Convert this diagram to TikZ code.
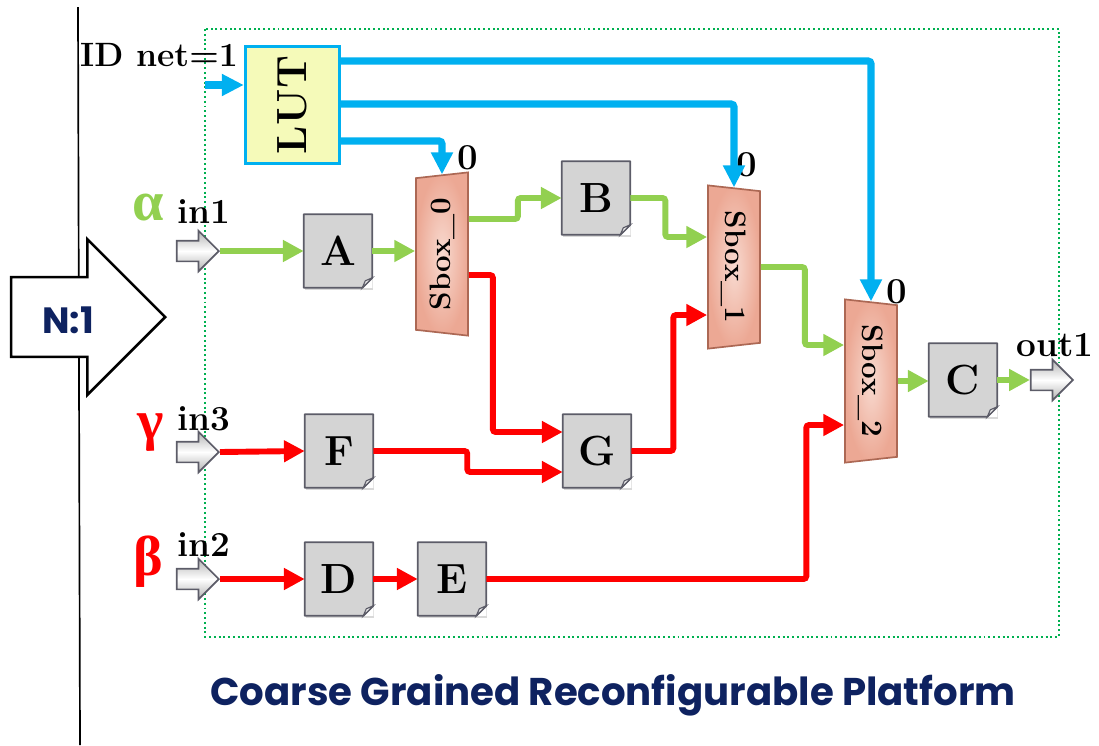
\documentclass[tikz,border=0pt]{standalone}
\usepackage{fontspec}
\newfontfamily\titlefont{Poppins}
\newfontfamily\greekfont{Liberation Serif}
\usepackage{graphicx}
\usepackage{tikz}
\usetikzlibrary{arrows.meta, positioning, calc, shapes.geometric, shapes.arrows, shadows}
\definecolor{lutblue}{RGB}{0,176,240}
\definecolor{sigreen}{RGB}{146,208,80}
\definecolor{sired}{RGB}{255,0,0}
\definecolor{lutfill}{RGB}{245,250,185}
\definecolor{sboxfill}{RGB}{236,168,148}
\definecolor{sboxlight}{RGB}{248,218,208}
\definecolor{sboxedge}{RGB}{172,104,84}
\definecolor{boxgray}{RGB}{212,212,212}
\definecolor{boxedge}{RGB}{92,92,104}
\definecolor{framegreen}{RGB}{0,176,80}
\definecolor{navy}{RGB}{14,34,96}

\begin{document}
\begin{tikzpicture}[
x=0.025cm, y=-0.025cm,
blk/.style={rectangle, fill=boxgray, minimum width=1.7cm, minimum height=1.825cm, inner sep=0pt, font=\fontsize{30}{30}\selectfont\bfseries, drop shadow={opacity=0.3, shadow xshift=1pt, shadow yshift=-2pt}},
sbox/.style={trapezium, trapezium stretches body, trapezium angle=77, draw=sboxedge, line width=1.2pt, inner color=sboxlight, outer color=sboxfill, minimum width=4.08cm, minimum height=1.3cm, inner sep=0pt, font=\fontsize{21}{21}\selectfont\bfseries},
lutbox/.style={rectangle, draw=lutblue, line width=2.4pt, fill=lutfill, minimum width=2.35cm, minimum height=2.93cm, font=\fontsize{30}{30}\selectfont\bfseries},
port/.style={single arrow, draw=boxedge, line width=1.2pt, top color=gray!60, bottom color=gray!60, middle color=white, minimum height=1.05cm, inner xsep=0pt, inner ysep=0.2375cm, single arrow head extend=0.25cm, anchor=tip},
lbl/.style={font=\fontsize{25}{25}\selectfont\bfseries, inner sep=0pt},
greek/.style={font=\fontsize{40}{40}\greekfont\bfseries, inner sep=0pt},
gwire/.style={line width=4.2pt, draw=sigreen, rounded corners=2pt, -{Triangle[length=0.52cm, width=0.52cm]}},
rwire/.style={line width=4.2pt, draw=sired, rounded corners=2pt, -{Triangle[length=0.52cm, width=0.52cm]}},
bwire/.style={line width=5pt, draw=lutblue, rounded corners=2pt, -{Triangle[length=0.55cm, width=0.52cm]}}
]
\useasboundingbox (0,0) rectangle (1099,745);

\draw[line width=1.2pt] (78,7) -- (80,745);
\node[single arrow, draw, line width=1.8pt, fill=white, minimum height=3.85cm, inner xsep=0pt, inner ysep=0.9625cm, single arrow head extend=0.95cm, anchor=tip] (nto1) at (167,317) {};
\node[font=\fontsize{26}{26}\titlefont\bfseries, text=navy] (ratio) at (68,320) {N:1};

\draw[dotted, line width=1.4pt, framegreen] (205,29) rectangle (1059,637);

\node[lutbox] (lut) at (292.5,105) {\rotatebox{90}{LUT}};
\node[lbl, font=\fontsize{24}{24}\selectfont\bfseries] (idnet) at (159,55) {ID net=1};
\coordinate (idin) at (205,85);

\node[blk] (A) at (338,251) {A};
\node[blk] (B) at (596,198) {B};
\node[blk] (F) at (339,451) {F};
\node[blk] (G) at (597,451) {G};
\node[blk] (D) at (339,579) {D};
\node[blk] (E) at (452,579) {E};
\node[blk] (C) at (963,380) {C};

\foreach \b in {A,B,C,D,E,F,G}{
  \fill[white] ($(\b.south east)+(0,-10)$) -- (\b.south east) -- ($(\b.south east)+(-10,0)$) -- cycle;
  \draw[boxedge, line width=1.2pt, line join=round] (\b.north west) -- (\b.north east) -- ($(\b.south east)+(0,-10)$) -- ($(\b.south east)+(-10,0)$) -- (\b.south west) -- cycle;
  \filldraw[boxedge, fill=gray!15, line width=0.8pt] ($(\b.south east)+(0,-10)$) -- ($(\b.south east)+(-7,-7)$) -- ($(\b.south east)+(-10,0)$) -- cycle;
}

\node[sbox, rotate=90] (s0) at (442,254) {Sbox\_0};
\node[sbox, rotate=-90] (s1) at (734,267) {Sbox\_1};
\node[sbox, rotate=-90] (s2) at (871,381) {Sbox\_2};

\node[lbl, font=\fontsize{26}{26}\selectfont\bfseries] (z0) at (468,158) {0};
\node[lbl, font=\fontsize{26}{26}\selectfont\bfseries] (z1) at (747,165) {0};
\node[lbl, font=\fontsize{26}{26}\selectfont\bfseries] (z2) at (897,292) {0};

\node[port] (in1) at (220,251) {};
\node[port] (in3) at (220,452) {};
\node[port] (in2) at (220,579) {};
\node[port] (out1) at (1074,380) {};

\node[lbl] (in1l) at (204,212) {in1};
\node[lbl] (in3l) at (204,419) {in3};
\node[lbl] (in2l) at (204,545) {in2};
\node[lbl] (out1l) at (1055,345) {out1};
\node[greek, text=sigreen] (alpha) at (148,208) {α};
\node[greek, text=sired] (gamma) at (151,433) {γ};
\node[greek, text=sired] (beta) at (148,562) {β};

\draw[bwire] (idin) -- (idin -| lut.west);
\draw[bwire] ($(lut.east)+(0,36)$) -| (s0.east);
\draw[bwire] ($(lut.east)+(0,-1)$) -| (s1.west);
\draw[bwire] ($(lut.east)+(0,-44)$) -| (s2.west);

\draw[gwire] (in1.tip) -- (A.west);
\draw[gwire] (A.east) -- (A.east -| s0.north);
\draw[gwire] ($(s0.south)+(0,-35)$) -- ++(49,0) |- (B.west);
\draw[gwire] (B.east) -- ++(35,0) |- ($(s1.south)+(0,-30)$);
\draw[gwire] (s1.north) -- ++(44,0) |- ($(s2.south)+(0,-36)$);
\draw[gwire] (s2.north) -- (s2.north -| C.west);
\draw[gwire] (C.east) -- (out1.tail);

\draw[rwire] (in3.tip) -- (F.west);
\draw[rwire] (in2.tip) -- (D.west);
\draw[rwire] (D.east) -- (E.west);
\draw[rwire] ($(s0.south)+(0,21)$) -- ++(24,0) |- ($(G.west)+(0,-19)$);
\draw[rwire] (F.east) -- ++(94,0) |- ($(G.west)+(0,21)$);
\draw[rwire] (G.east) -- ++(42,0) |- ($(s1.south)+(0,48)$);
\draw[rwire] (E.east) -- ++(320,0) |- ($(s2.south)+(0,44)$);

\node[font=\fontsize{27.5}{27.5}\titlefont\bfseries, text=navy] (title) at (613,695) {Coarse Grained Reconfigurable Platform};
\end{tikzpicture}
\end{document}
